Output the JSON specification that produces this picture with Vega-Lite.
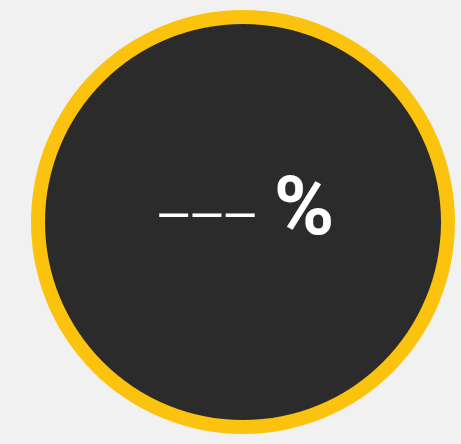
{
  "$schema": "https://vega.github.io/schema/vega-lite/v6.json",
  "width": 436,
  "height": 444,
  "autosize": "none",
  "padding": {"left": 25, "top": 0, "right": 0, "bottom": 0},
  "background": "#f1f1f1",
  "config": {"view": {"stroke": null}},
  "data": {"values": [{"part": "gauge", "share": 1, "dashes": "–\u200a–\u200a–", "unit": "%"}]},
  "layer": [
    {"mark": {"type": "arc", "radius": 212, "fill": "#fbc30d"}, "encoding": {"theta": {"field": "share", "type": "quantitative"}}},
    {"mark": {"type": "arc", "radius": 198, "fill": "#2b2b2b"}, "encoding": {"theta": {"field": "share", "type": "quantitative"}}},
    {"mark": {"type": "text", "font": "Liberation Sans", "fontSize": 52, "color": "#ffffff", "align": "center", "baseline": "middle", "dx": -36, "dy": -10}, "encoding": {"text": {"field": "dashes"}}},
    {"mark": {"type": "text", "font": "Roboto", "fontWeight": "bold", "fontSize": 82, "color": "#ffffff", "align": "center", "baseline": "middle", "dx": 61, "dy": -13}, "encoding": {"text": {"field": "unit"}}}
  ]
}
